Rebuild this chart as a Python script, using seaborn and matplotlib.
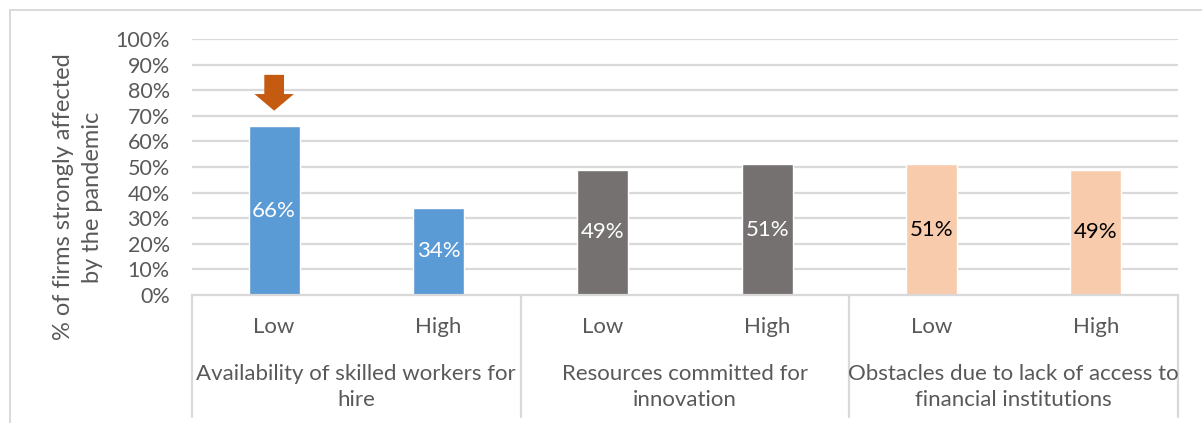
import matplotlib
matplotlib.use("Agg")
import matplotlib.pyplot as plt
from matplotlib.patches import FancyArrow, Rectangle
from matplotlib.lines import Line2D
import seaborn as sns
import pandas as pd

# Data
groups = ["Availability of skilled workers for\nhire",
          "Resources committed for\ninnovation",
          "Obstacles due to lack of access to\nfinancial institutions"]
levels = ["Low", "High"]
values = [66, 34, 49, 51, 51, 49]
group_colors = ["#5B9BD5", "#767171", "#F8CBAD"]
label_colors = ["white", "white", "black"]
yticks = list(range(0, 101, 10))

rows = []
for gi, g in enumerate(groups):
    for li, lv in enumerate(levels):
        rows.append({"key": f"{gi}-{lv}", "group": g, "level": lv,
                     "value": values[gi * 2 + li]})
df = pd.DataFrame(rows)

sns.set_theme(style="white")
plt.rcParams["font.family"] = ["Lato", "DejaVu Sans"]
text_gray = "#595959"
grid_gray = "#D9D9D9"
fs = 16

fig = plt.figure(figsize=(12.02, 4.23), dpi=100)
W, H = 1202, 423
ax = fig.add_axes([192 / W, 1 - 295 / H, (1178 - 192) / W, (295 - 39) / H])

sns.barplot(data=df, x="key", y="value", hue="group", order=df["key"].tolist(),
            palette=dict(zip(groups, group_colors)), dodge=False, width=0.31,
            saturation=1, legend=False, ax=ax)

ax.set_ylim(0, 100)
ax.set_xlim(-0.5, len(df) - 0.5)
ax.set_yticks(yticks)
ax.set_yticklabels([f"{t}%" for t in yticks], fontsize=15.5, color=text_gray)
ax.tick_params(axis="y", length=0, pad=16)
ax.set_xticks([])
ax.set_xlabel("")
ax.set_ylabel("% of firms strongly affected\nby the pandemic", fontsize=17,
              color=text_gray, linespacing=1.45)
ax.yaxis.set_label_coords(-(192 - 103) / 986, 1 - (197 - 39) / 256)
for t in yticks[1:]:
    ax.axhline(t, color=grid_gray, lw=1.6, zorder=0)
for s in ["top", "right", "left"]:
    ax.spines[s].set_visible(False)
ax.spines["bottom"].set_color(grid_gray)
ax.spines["bottom"].set_linewidth(1.6)

# value labels centred in the bars
for i, v in enumerate(values):
    ax.text(i, v / 2, f"{v}%", ha="center", va="center", fontsize=fs,
            color=label_colors[i // 2])

# arrow above the first bar
ax.add_patch(FancyArrow(0, 86, 0, -14, width=0.12, head_width=0.24,
                        head_length=6.5, length_includes_head=True,
                        color="#C55A11", lw=0, transform=ax.transData,
                        zorder=5))

# multi-level category axis
trans = ax.get_xaxis_transform()
for i, row in df.iterrows():
    ax.text(i, -(327 - 295) / 256, row["level"], transform=trans, ha="center",
            va="center", fontsize=fs, color=text_gray)
for gi, g in enumerate(groups):
    ax.text(gi * 2 + 0.5, -(387 - 295) / 256, g, transform=trans, ha="center",
            va="center", fontsize=fs, color=text_gray, linespacing=1.4)
for xb in [-0.5, 1.5, 3.5, 5.5]:
    ax.add_line(Line2D([xb, xb], [0, -(417 - 295) / 256],
                       transform=trans, color=grid_gray, lw=1.6,
                       clip_on=False))

# chart frame
fig.patches.append(Rectangle((10 / W, -0.1), 1.2, 1 - 10 / H + 0.1,
                             transform=fig.transFigure, fill=False,
                             edgecolor=grid_gray, lw=1.4))

fig.savefig("out.png", dpi=100, facecolor="white")
